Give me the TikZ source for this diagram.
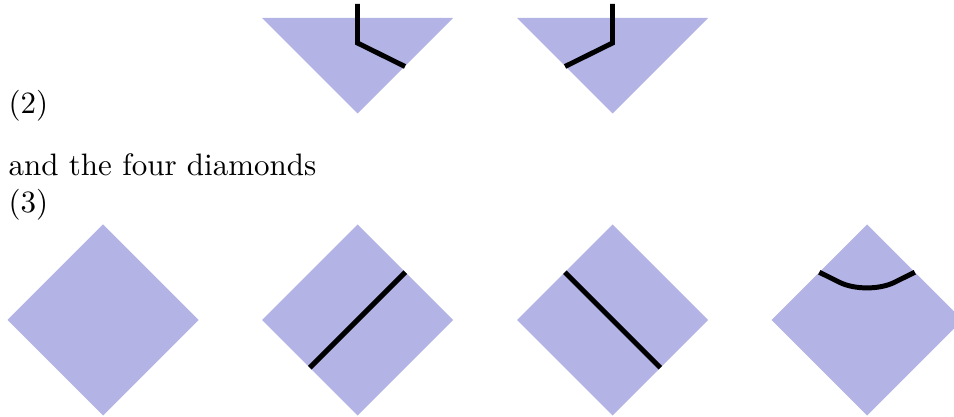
\documentclass[tikz,border=0pt]{standalone}
\definecolor{lav}{RGB}{179,179,230}
\tikzset{
  tile/.style={fill=lav,draw=none},
  strand/.style={line width=1.6pt,black},
  lbl/.style={inner sep=0pt,anchor=base west}
}
\begin{document}
\begin{tikzpicture}[x=0.3226pt,y=-0.3226pt]
\useasboundingbox (0,0) rectangle (954,417);
\clip (0,0) rectangle (954,417);
% top triangles
\fill[tile] (262,18) -- (453,18) -- (357.5,113.5) -- cycle;
\fill[tile] (517,18) -- (708,18) -- (612.5,113.5) -- cycle;
\coordinate (t1a) at (357.5,4);
\coordinate (t1b) at (357.5,43);
\coordinate (t1c) at (405,66.5);
\draw[strand] (t1a) -- (t1b) -- (t1c);
\coordinate (t2a) at (612.5,4);
\coordinate (t2b) at (612.5,43);
\coordinate (t2c) at (565,66.5);
\draw[strand] (t2a) -- (t2b) -- (t2c);
% texts
\node[lbl] (n2) at (8,114) {(2)};
\node[lbl] (txt) at (8,176) {and the four diamonds};
\node[lbl] (n3) at (8,213) {(3)};
% diamonds
\foreach \c in {103,357.5,612.5,867}{
  \fill[tile] (\c-95.5,320) -- (\c,224.5) -- (\c+95.5,320) -- (\c,415.5) -- cycle;
}
\coordinate (d2a) at (309.75,367.75);
\coordinate (d2b) at (405.25,272.25);
\draw[strand] (d2a) -- (d2b);
\coordinate (d3a) at (564.75,272.25);
\coordinate (d3b) at (660.25,367.75);
\draw[strand] (d3a) -- (d3b);
\coordinate (d4a) at (819.25,272.25);
\coordinate (d4b) at (867,296);
\coordinate (d4c) at (914.75,272.25);
\draw[strand,rounded corners=10pt] (d4a) -- (d4b) -- (d4c);
\end{tikzpicture}
\end{document}
